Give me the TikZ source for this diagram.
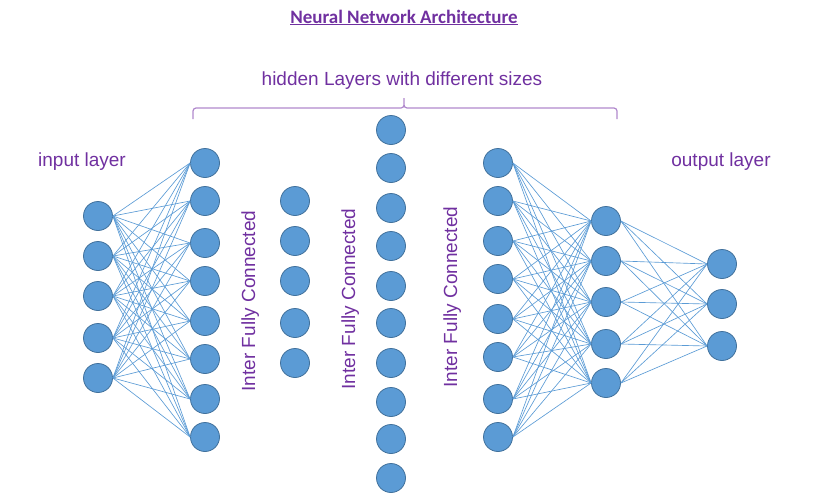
\documentclass[tikz,border=0pt]{standalone}
\usepackage{fontspec}
\setmainfont{Liberation Sans}
\newfontfamily\titlefont{Carlito}
\definecolor{nodeblue}{HTML}{5B9BD5}
\definecolor{nodeline}{HTML}{41719C}
\definecolor{layerpurple}{HTML}{7030A0}
\definecolor{bracepurple}{HTML}{B088CC}

\begin{document}
\begin{tikzpicture}[
		x=1pt, y=-1pt,
		neuron/.style={circle,draw=nodeline,fill=nodeblue,line width=0.8pt,minimum size=29pt,inner sep=0pt},
		link/.style={draw=nodeblue,line width=0.65pt},
		layertext/.style={text=layerpurple,font=\fontsize{19}{23}\selectfont,inner sep=0pt,anchor=base},
		layerbrace/.style={draw=bracepurple,line width=1.2pt}
		]
		\useasboundingbox (0,0) rectangle (814,501);
		
		% titles
		\node[layertext,font=\titlefont\bfseries\fontsize{19}{23}\selectfont] (title) at (404,23) {\underline{Neural Network Architecture}};
		\node[layertext] (hiddentext) at (402,85) {hidden Layers with different sizes};
		\node[layertext] (inputtext) at (82,166) {input layer};
		\node[layertext] (outputtext) at (721,166) {output layer};
		\draw[layerbrace] (193,119) -- (193,111) to[out=90,in=180] (196,108) -- (401,108)
			to[out=0,in=-90] (404,105) -- (404,98) -- (404,105) to[out=-90,in=180] (407,108)
			-- (614,108) to[out=0,in=90] (617,111) -- (617,119);
		
		% layers
		\foreach \y [count=\i] in {216,256,296,338,378}
		\node[neuron] (in\i) at (98,\y) {};
		\foreach \y [count=\i] in {163,201,243,281,321,359,399,437}
		\node[neuron] (ha\i) at (205,\y) {};
		\foreach \y [count=\i] in {201,241,281,323,363}
		\node[neuron] (hb\i) at (295,\y) {};
		\foreach \y [count=\i] in {130,168,208,246,286,323,363,402,439,478}
		\node[neuron] (hc\i) at (391,\y) {};
		\foreach \y [count=\i] in {163,201,241,279,319,357,399,437}
		\node[neuron] (hd\i) at (498,\y) {};
		\foreach \y [count=\i] in {221,261,302,344,383}
		\node[neuron] (he\i) at (606,\y) {};
		\foreach \y [count=\i] in {264,304,346}
		\node[neuron] (out\i) at (722,\y) {};
		
		% connections
		\foreach \i in {1,...,5}
		\foreach \j in {1,...,8}
		\draw[link] (in\i.east) -- (ha\j.west);
		\foreach \i in {1,...,8}
		\foreach \j in {1,...,5}
		\draw[link] (hd\i.east) -- (he\j.west);
		\foreach \i in {1,...,5}
		\foreach \j in {1,...,3}
		\draw[link] (he\i.east) -- (out\j.west);
		
		\node[layertext,rotate=90] (interab) at (255,301) {Inter Fully Connected};
		\node[layertext,rotate=90] (interbc) at (355,299) {Inter Fully Connected};
		\node[layertext,rotate=90] (intercd) at (457,297) {Inter Fully Connected};
\end{tikzpicture}
\end{document}
